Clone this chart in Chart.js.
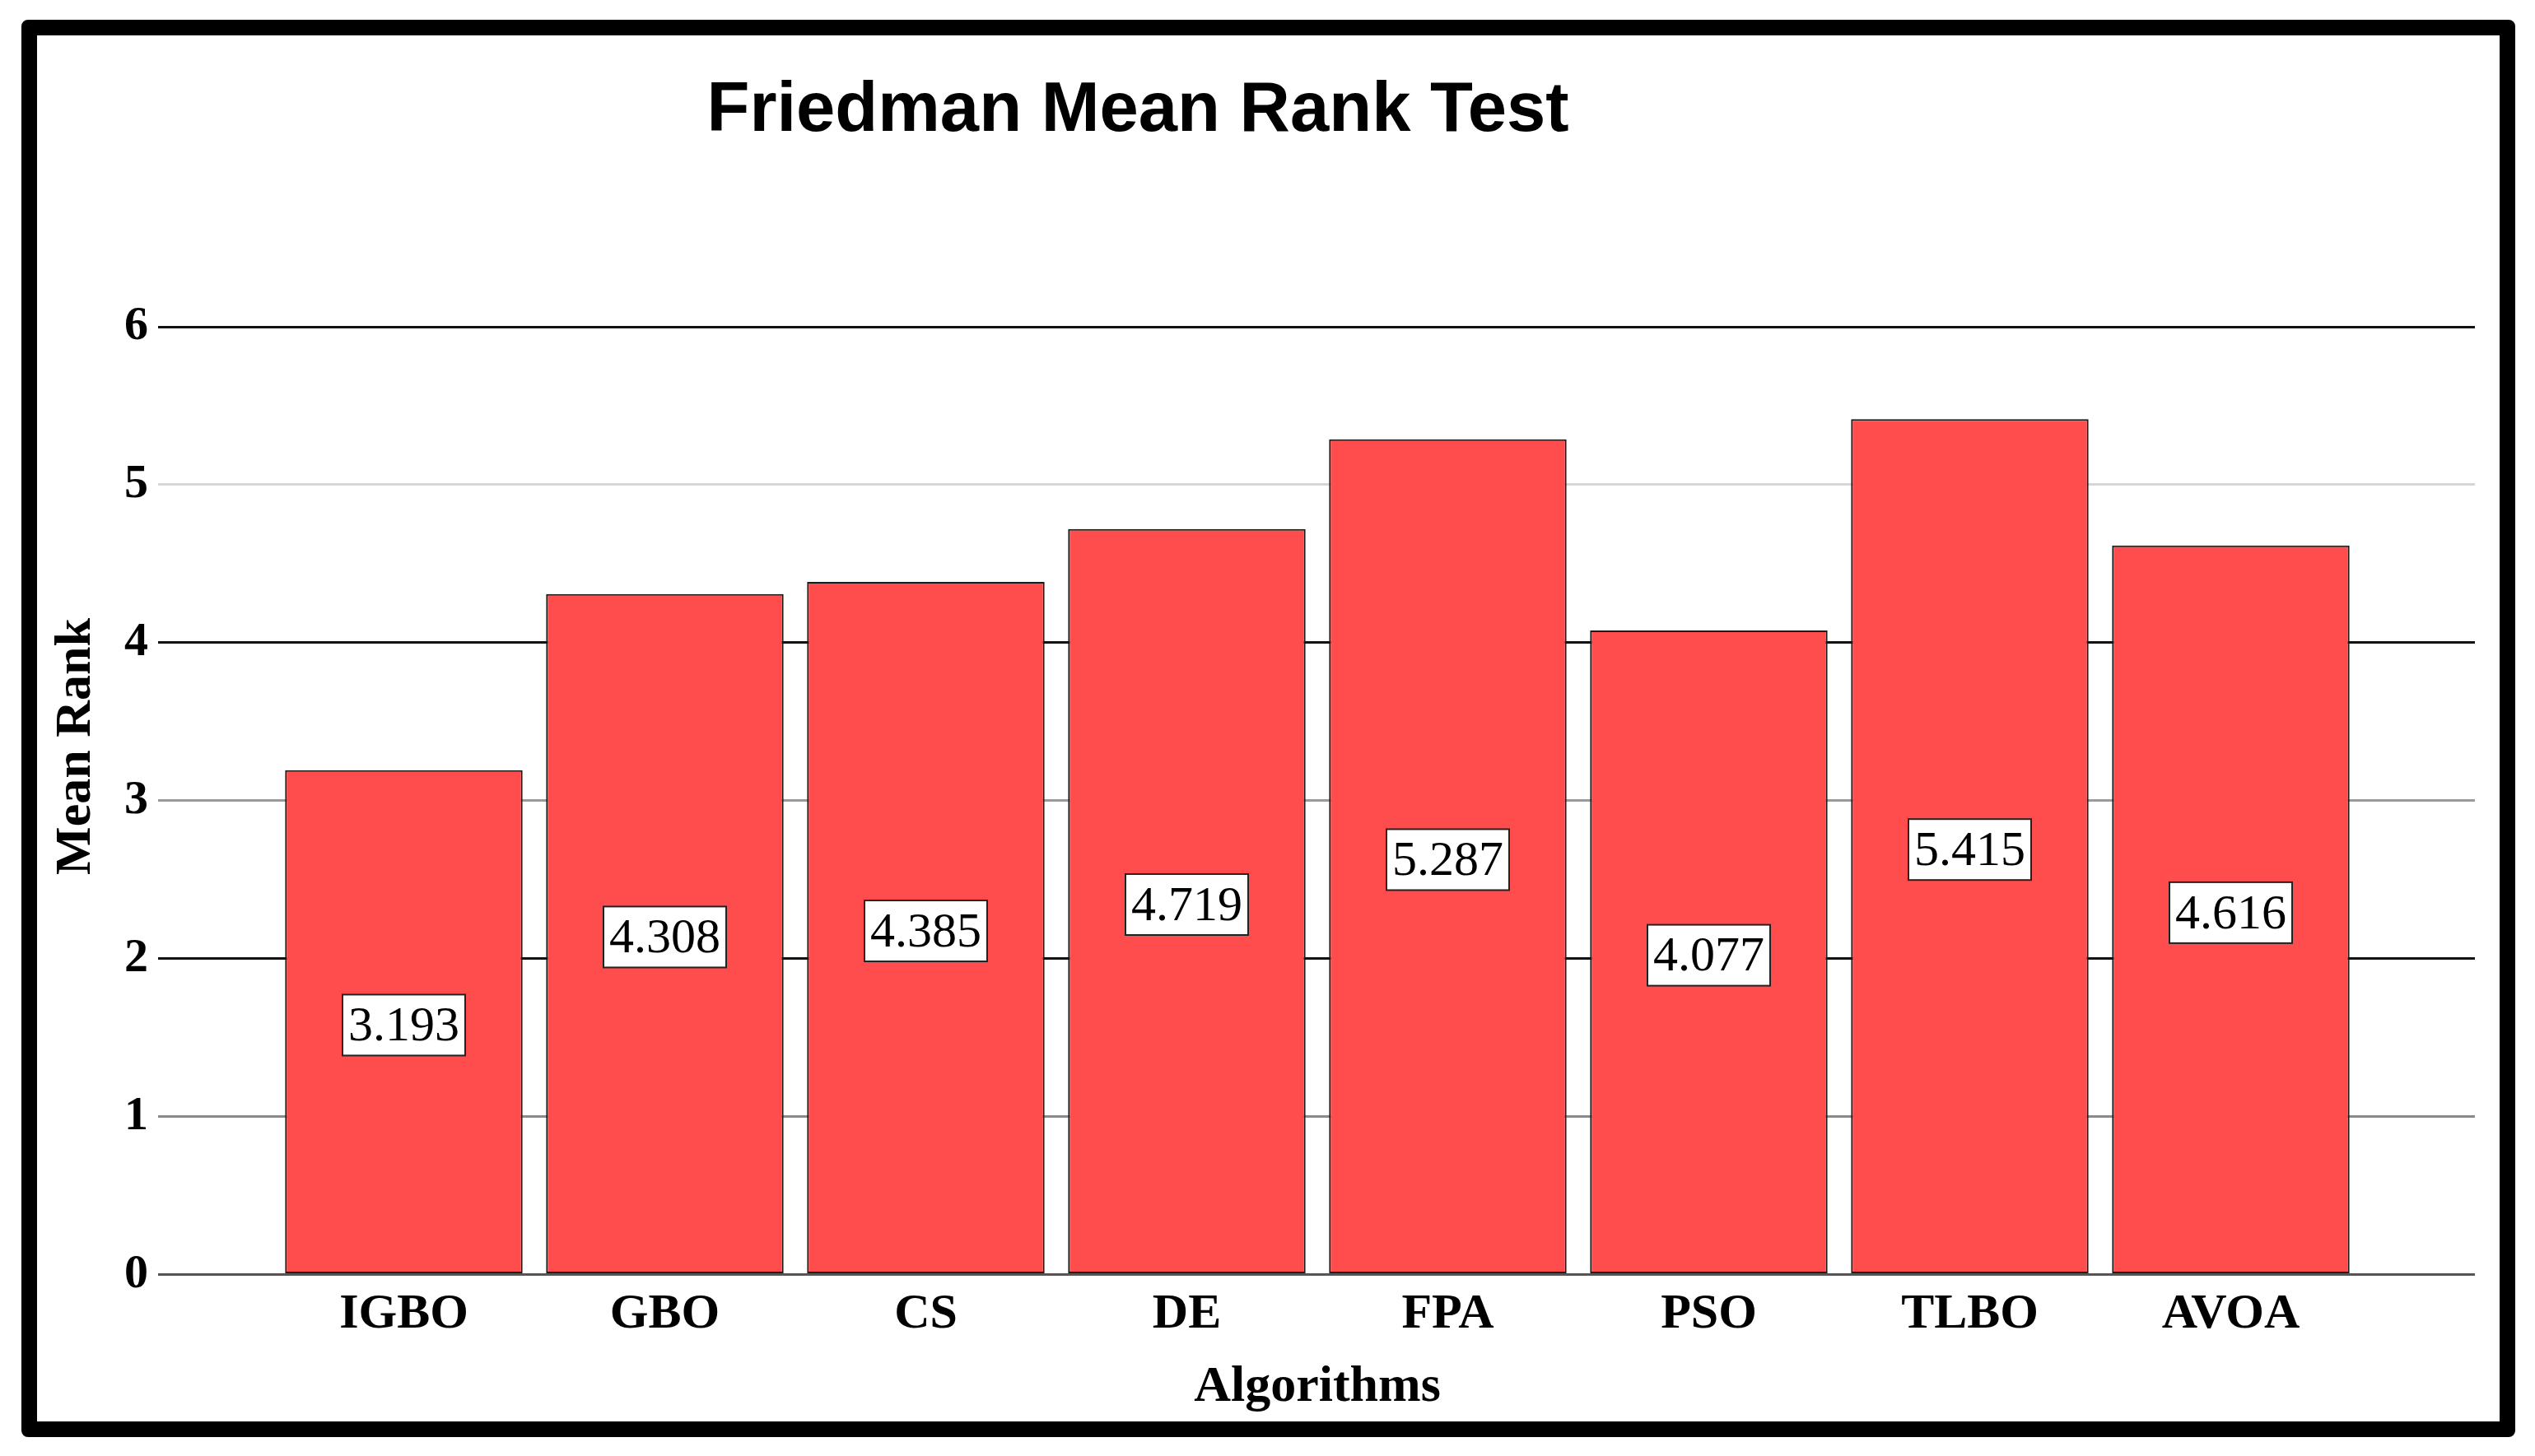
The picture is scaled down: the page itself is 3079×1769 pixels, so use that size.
<!DOCTYPE html>
<html>
<head>
<meta charset="utf-8">
<title>Friedman Mean Rank Test</title>
<script src="https://cdn.jsdelivr.net/npm/chart.js@4.4.1/dist/chart.umd.min.js"></script>
<style>
    body { margin: 0; background: #fff; }
    .wrap { position: relative; width: 3079px; height: 1769px; }
    .frame {
        position: absolute; left: 26px; top: 24px;
        width: 3029px; height: 1722px;
        box-sizing: border-box;
        border: 19px solid #000;
        border-radius: 8px;
        pointer-events: none;
    }
    .title {
        position: absolute; left: 0; top: 87px; width: 2764px;
        text-align: center;
        font: bold 85px "Liberation Sans", Arial, sans-serif;
        line-height: 1;
        color: #000;
    }
    /* y axis title sits above the middle of the plot, as in the original */
    .ytitle {
        position: absolute; left: -157px; top: 867px;
        width: 500px; height: 80px;
        line-height: 80px;
        text-align: center;
        font: bold 62px "Liberation Serif", "Times New Roman", serif;
        color: #000;
        transform: rotate(-90deg);
    }
</style>
</head>
<body>
<div class="wrap">
    <canvas id="rankChart" width="3079" height="1769"></canvas>
    <div class="title">Friedman Mean Rank Test</div>
    <div class="ytitle">Mean Rank</div>
    <div class="frame"></div>
</div>
<script>
// Data
const algorithms = ['IGBO', 'GBO', 'CS', 'DE', 'FPA', 'PSO', 'TLBO', 'AVOA'];
const meanRanks = [3.193, 4.308, 4.385, 4.719, 5.287, 4.077, 5.415, 4.616];
const rankTicks = [0, 1, 2, 3, 4, 5, 6];

// even lines dark, odd lines grey (index = tick value)
const gridColors = ['#555555', '#8a8a8a', '#111111', '#9a9a9a', '#111111', '#d6d6d6', '#111111'];

const serif = '"Liberation Serif", "Times New Roman", serif';

// Boxed value label in the middle of each bar
const valueBoxes = {
    id: 'valueBoxes',
    afterDatasetsDraw(chart) {
        const ctx = chart.ctx;
        const meta = chart.getDatasetMeta(0);
        ctx.save();
        ctx.font = '60px ' + serif;
        ctx.textAlign = 'center';
        ctx.textBaseline = 'middle';
        meta.data.forEach((bar, i) => {
            const text = meanRanks[i].toFixed(3);
            const w = ctx.measureText(text).width + 14;
            const h = 74;
            const cy = (bar.y + bar.base) / 2 + 4;
            ctx.fillStyle = '#fff';
            ctx.fillRect(bar.x - w / 2, cy - h / 2, w, h);
            ctx.lineWidth = 2;
            ctx.strokeStyle = '#222';
            ctx.strokeRect(bar.x - w / 2, cy - h / 2, w, h);
            ctx.fillStyle = '#000';
            ctx.fillText(text, bar.x, cy + 3);
        });
        ctx.restore();
    }
};

function tickColor(context) {
    return gridColors[rankTicks.indexOf(context.tick.value)] || '#111';
}

new Chart(document.getElementById('rankChart'), {
    type: 'bar',
    data: {
        labels: algorithms,
        datasets: [{
            label: 'Mean Rank',
            data: meanRanks,
            backgroundColor: '#FF4C4C',
            borderColor: '#1a1a1a',
            borderWidth: 2,
            borderSkipped: false,
            barPercentage: 0.91,
            categoryPercentage: 1.0
        }]
    },
    options: {
        responsive: false,
        animation: false,
        devicePixelRatio: 1,
        layout: {
            // left padding leaves room for the Mean Rank title
            padding: { top: 397, left: 139, right: 73, bottom: 45 }
        },
        plugins: {
            legend: { display: false },
            title: { display: false },
            tooltip: { enabled: false }
        },
        scales: {
            x: {
                grid: { display: false },
                border: { display: false },
                ticks: {
                    color: '#000',
                    padding: 5,
                    font: { family: serif, size: 60, weight: 'bold' }
                },
                title: {
                    display: true,
                    text: 'Algorithms',
                    color: '#000',
                    padding: { top: 10, bottom: 1 },
                    font: { family: serif, size: 62, weight: 'bold' }
                }
            },
            y: {
                min: 0,
                max: 6,
                border: { display: false },
                grid: {
                    color: tickColor,
                    tickColor: tickColor,
                    lineWidth: 3,
                    tickLength: 140
                },
                ticks: {
                    stepSize: 1,
                    color: '#000',
                    padding: 12,
                    font: { family: serif, size: 58, weight: 'bold' }
                }
            },
            // right-hand axis only extends the grid lines past the bars
            y2: {
                position: 'right',
                min: 0,
                max: 6,
                border: { display: false },
                grid: {
                    drawOnChartArea: false,
                    tickColor: tickColor,
                    lineWidth: 3,
                    tickLength: 138
                },
                ticks: { display: false, stepSize: 1 }
            }
        }
    },
    plugins: [valueBoxes]
});
</script>
</body>
</html>
